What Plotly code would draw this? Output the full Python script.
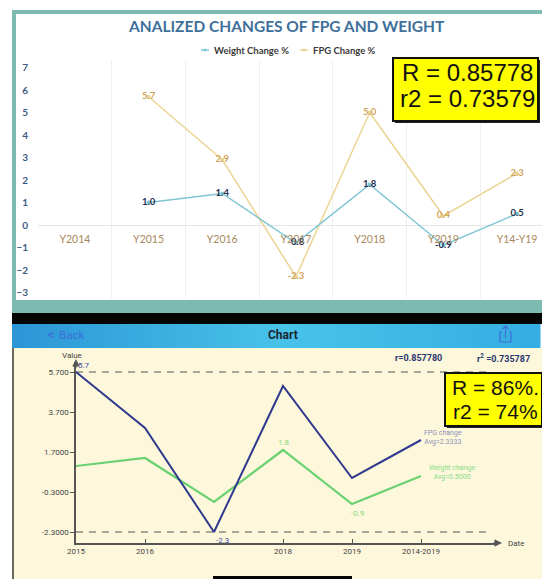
import plotly.graph_objects as go

W, H = 542, 579


def px(x):
    return x / W


def py(y):
    return 1 - y / H


# ---------------- data ----------------
top_categories = ["Y2014", "Y2015", "Y2016", "Y2017", "Y2018", "Y2019", "Y14-Y19"]
top_weight = [None, 1.0, 1.4, -0.8, 1.8, -0.9, 0.5]
top_fpg = [None, 5.7, 2.9, -2.3, 5.0, 0.4, 2.3]
top_y_ticks = [-3, -2, -1, 0, 1, 2, 3, 4, 5, 6, 7]

bottom_dates = ["2015", "2016", "2017", "2018", "2019", "2014-2019"]
bottom_tick_labels = ["2015", "2016", "", "2018", "2019", "2014-2019"]
bottom_fpg = [5.7, 2.9, -2.3, 5.0, 0.4, 2.3]
bottom_weight = [1.0, 1.4, -0.8, 1.8, -0.9, 0.5]
bottom_y_ticks = [5.7, 3.7, 1.7, -0.3, -2.3]
bottom_y_tick_labels = ["5.700", "3.700", "1.7000", "-0.3000", "-2.3000"]

# ---------------- colours ----------------
W_TOP = "#7fc6d4"
F_TOP = "#ebd493"
F_BOT = "#2f3a8e"
W_BOT = "#6ad170"
TEAL = "#7dbab2"

fig = go.Figure()

# ---------------- top chart traces ----------------
fig.add_trace(go.Scatter(
    x=top_categories, y=top_fpg, mode="lines+markers+text",
    line=dict(color=F_TOP, width=1.5), marker=dict(size=4, color=F_TOP),
    text=["" if v is None else f"{v:.1f}" for v in top_fpg],
    textposition="middle center",
    textfont=dict(family="Lato", size=9.5, color="#d3a55a", weight="bold"),
    xaxis="x", yaxis="y", showlegend=False, cliponaxis=False,
))
fig.add_trace(go.Scatter(
    x=top_categories, y=top_weight, mode="lines+markers+text",
    line=dict(color=W_TOP, width=1.5), marker=dict(size=4, color=W_TOP),
    text=["" if v is None else f"{v:.1f}" for v in top_weight],
    textposition="middle center",
    textfont=dict(family="Lato", size=9.5, color="#1f2e4c", weight="bold"),
    xaxis="x", yaxis="y", showlegend=False, cliponaxis=False,
))

# ---------------- bottom chart traces ----------------
bx = list(range(len(bottom_dates)))
fig.add_trace(go.Scatter(
    x=bx, y=bottom_weight, mode="lines", line=dict(color=W_BOT, width=2.2),
    xaxis="x2", yaxis="y2", showlegend=False, cliponaxis=False,
))
fig.add_trace(go.Scatter(
    x=bx, y=bottom_fpg, mode="lines", line=dict(color=F_BOT, width=2),
    xaxis="x2", yaxis="y2", showlegend=False, cliponaxis=False,
))

shapes = []
annotations = []


def rect(x0, y0, x1, y1, fill, line_color=None, line_width=0, layer="below"):
    shapes.append(dict(
        type="rect", xref="paper", yref="paper",
        x0=px(x0), x1=px(x1), y0=py(y1), y1=py(y0),
        fillcolor=fill, layer=layer,
        line=dict(color=line_color or fill, width=line_width),
    ))


def text(x, y, s, size, color, family="Roboto", xanchor="center", weight="normal"):
    annotations.append(dict(
        x=px(x), y=py(y), xref="paper", yref="paper", text=s, showarrow=False,
        xanchor=xanchor, yanchor="middle",
        font=dict(family=family, size=size, color=color, weight=weight),
    ))


# ---------------- backgrounds ----------------
rect(12, 10, 560, 313, TEAL)
rect(16, 14, 560, 300, "#ffffff")
rect(12, 313, 560, 324, "#050505")


def hex2rgb(h):
    h = h.lstrip("#")
    return tuple(int(h[i:i + 2], 16) for i in (0, 2, 4))


stops = [(12, "#2c96d6"), (280, "#49c3ea"), (542, "#36ade3")]
for xs in range(12, 542, 6):
    xc = xs + 3
    for (a, ca), (b, cb) in zip(stops[:-1], stops[1:]):
        if a <= xc <= b:
            t = (xc - a) / (b - a)
            r1, g1, b1 = hex2rgb(ca)
            r2, g2, b2 = hex2rgb(cb)
            col = "rgb(%d,%d,%d)" % (r1 + (r2 - r1) * t, g1 + (g2 - g1) * t, b1 + (b2 - b1) * t)
            rect(xs, 324, xs + 6.5, 348, col)
            break

rect(12, 348, 560, 580, "#fdf8dc")
shapes.append(dict(type="line", xref="paper", yref="paper", x0=px(13), x1=px(13),
                   y0=py(348), y1=py(579), line=dict(color="#3a3a3a", width=1.5), layer="below"))
# home indicator bar
rect(213, 576, 352, 582, "#050505", layer="above")

# ---------------- top title & legend ----------------
text(286, 26, "ANALIZED CHANGES OF FPG AND WEIGHT", 15.5, "#3e6f9b", family="Lato", weight="bold")
for x0, col, lab in [(201, W_TOP, "Weight Change %"), (300, F_TOP, "FPG Change %")]:
    shapes.append(dict(type="line", xref="paper", yref="paper", x0=px(x0), x1=px(x0 + 8),
                       y0=py(50), y1=py(50), line=dict(color=col, width=1.5)))
    shapes.append(dict(type="circle", xref="paper", yref="paper", x0=px(x0 + 2.5), x1=px(x0 + 5.5),
                       y0=py(51.5), y1=py(48.5), fillcolor=col, line=dict(color=col, width=0)))
    text(x0 + 11, 50, lab, 9.5, "#3a3a3a", family="Lato", xanchor="left", weight="bold")

# top yellow box
rect(395, 60, 540, 123, "#222222", layer="above")
rect(393, 58, 538, 121, "#ffff00", line_color="#111111", line_width=2, layer="above")
text(467, 72, "R = 0.85778", 24, "#111111", family="Liberation Sans")
text(467, 99, "r2 = 0.73579", 24, "#111111", family="Liberation Sans")

# ---------------- nav bar ----------------
text(51, 335, "<b>&lt;</b>", 12, "#3f6fd6", xanchor="center")
text(57, 335, "Back", 11.5, "#3f6fd6", xanchor="left")
text(283, 335, "Chart", 12, "#1b2633", weight="bold")
icol = "#3f6fd6"


def path(points, close=False):
    d = "M " + " L ".join("%f,%f" % (px(a), py(b)) for a, b in points)
    return d + (" Z" if close else "")


shapes.append(dict(type="path", xref="paper", yref="paper",
                   path=path([(502, 332), (500, 332), (500, 342), (511, 342), (511, 332), (509, 332)]),
                   line=dict(color=icol, width=1.2)))
shapes.append(dict(type="path", xref="paper", yref="paper",
                   path=path([(505.5, 338), (505.5, 326)]), line=dict(color=icol, width=1.2)))
shapes.append(dict(type="path", xref="paper", yref="paper",
                   path=path([(502.5, 329), (505.5, 326), (508.5, 329)]), line=dict(color=icol, width=1.2)))

# ---------------- bottom chart decorations ----------------
text(418, 358, "r=0.857780", 9, "#2b3670", weight="bold")
text(503, 358, "r<sup>2</sup> =0.735787", 9, "#2b3670", weight="bold")
text(72, 355, "Value", 8, "#444444")
text(506, 543, "Date", 8, "#444444", xanchor="left")

fmax, fmin = max(bottom_fpg), min(bottom_fpg)
for v in (fmax, fmin):
    shapes.append(dict(type="line", xref="x2", yref="y2", x0=0, x1=6.0, y0=v, y1=v,
                       line=dict(color="#555555", width=1.2, dash="7px,6px"), layer="below"))

# axis arrows
annotations.append(dict(x=px(76), y=py(359), xref="paper", yref="paper", ax=0, ay=10,
                        showarrow=True, arrowhead=2, arrowsize=1, arrowwidth=1.5,
                        arrowcolor="#555555", text=""))
annotations.append(dict(x=px(502), y=py(543), xref="paper", yref="paper", ax=-10, ay=0,
                        showarrow=True, arrowhead=2, arrowsize=1, arrowwidth=1.5,
                        arrowcolor="#555555", text=""))

# extreme value labels
i = bottom_fpg.index(fmax)
annotations.append(dict(x=bx[i], y=fmax, xref="x2", yref="y2", text=f"{fmax:.1f}", showarrow=False,
                        xshift=8, yshift=7, font=dict(family="Roboto", size=8, color="#3d4aa0")))
i = bottom_fpg.index(fmin)
annotations.append(dict(x=bx[i], y=fmin, xref="x2", yref="y2", text=f"{fmin:.1f}", showarrow=False,
                        xshift=8, yshift=-8, font=dict(family="Roboto", size=8, color="#3d4aa0")))
wmax, wmin = max(bottom_weight), min(bottom_weight)
i = bottom_weight.index(wmax)
annotations.append(dict(x=bx[i], y=wmax, xref="x2", yref="y2", text=f"{wmax:.1f}", showarrow=False,
                        xshift=1, yshift=8, font=dict(family="Roboto", size=8, color="#7fd87f")))
i = bottom_weight.index(wmin)
annotations.append(dict(x=bx[i], y=wmin, xref="x2", yref="y2", text=f"{wmin:.1f}", showarrow=False,
                        xshift=5, yshift=-9, font=dict(family="Roboto", size=8, color="#7fd87f")))

favg = sum(bottom_fpg) / len(bottom_fpg)
wavg = sum(bottom_weight) / len(bottom_weight)
text(443, 437, f"FPG change<br>Avg={favg:.4f}", 7, "#8d90bb")
text(452, 472, f"Weight change<br>Avg={wavg:.4f}", 7, "#86dc86")

# bottom yellow box
rect(447, 375, 544, 428, "#222222", layer="above")
rect(445, 373, 542, 426, "#ffff00", line_color="#111111", line_width=2, layer="above")
text(495, 387, "R = 86%.", 21, "#111111", family="Liberation Sans")
text(495, 411, "r2 = 74%", 21, "#111111", family="Liberation Sans")

# ---------------- layout ----------------
top_unit = 22.5
top_zero = 225
fig.update_layout(
    width=W, height=H, margin=dict(l=0, r=0, t=0, b=0, pad=0),
    paper_bgcolor="#ffffff", plot_bgcolor="rgba(0,0,0,0)",
    shapes=shapes, annotations=annotations,
    xaxis=dict(
        type="category", categoryorder="array", categoryarray=top_categories,
        domain=[px(38), 1], range=[-0.5, -0.5 + (W - 38) / 73.7],
        anchor="free", position=py(top_zero), automargin=False,
        tickson="boundaries", showgrid=True, gridcolor="#efefef", gridwidth=1,
        ticks="", showline=False, zeroline=False,
        tickfont=dict(family="Lato", size=10.5, color="#a8895c"), ticklabelstandoff=6,
    ),
    yaxis=dict(
        domain=[py(298), py(60)], automargin=False,
        range=[(top_zero - 298) / top_unit, (top_zero - 60) / top_unit],
        tickvals=top_y_ticks, showgrid=False, zeroline=True, zerolinecolor="#e6e6e6",
        zerolinewidth=1, showline=False, ticks="",
        tickfont=dict(family="Lato", size=10, color="#3e5b83", weight="bold"), ticklabelstandoff=9,
    ),
    xaxis2=dict(
        domain=[px(76), px(498)], range=[0, (498 - 76) / 69], anchor="y2", automargin=False,
        tickvals=[b for b, t in zip(bx, bottom_tick_labels) if t],
        ticktext=[t for t in bottom_tick_labels if t],
        showline=True, linecolor="#555555", linewidth=1.5, ticks="inside", ticklen=4,
        tickcolor="#555555", showgrid=False, zeroline=False,
        tickfont=dict(family="Roboto", size=8, color="#444444"),
    ),
    yaxis2=dict(
        domain=[py(543), py(362)], automargin=False,
        range=[5.7 - (543 - 372) / 20, 5.7 + (372 - 362) / 20], anchor="x2",
        tickvals=bottom_y_ticks, ticktext=bottom_y_tick_labels,
        showline=True, linecolor="#555555", linewidth=1.5, ticks="outside", ticklen=4,
        tickcolor="#555555", showgrid=False, zeroline=False,
        tickfont=dict(family="Roboto", size=8, color="#444444"),
    ),
)

fig.write_html(
    "out.html",
    config={"displayModeBar": False},
    post_script="document.body.style.margin='0';document.body.style.padding='0';"
                "document.documentElement.style.overflow='hidden';",
)
